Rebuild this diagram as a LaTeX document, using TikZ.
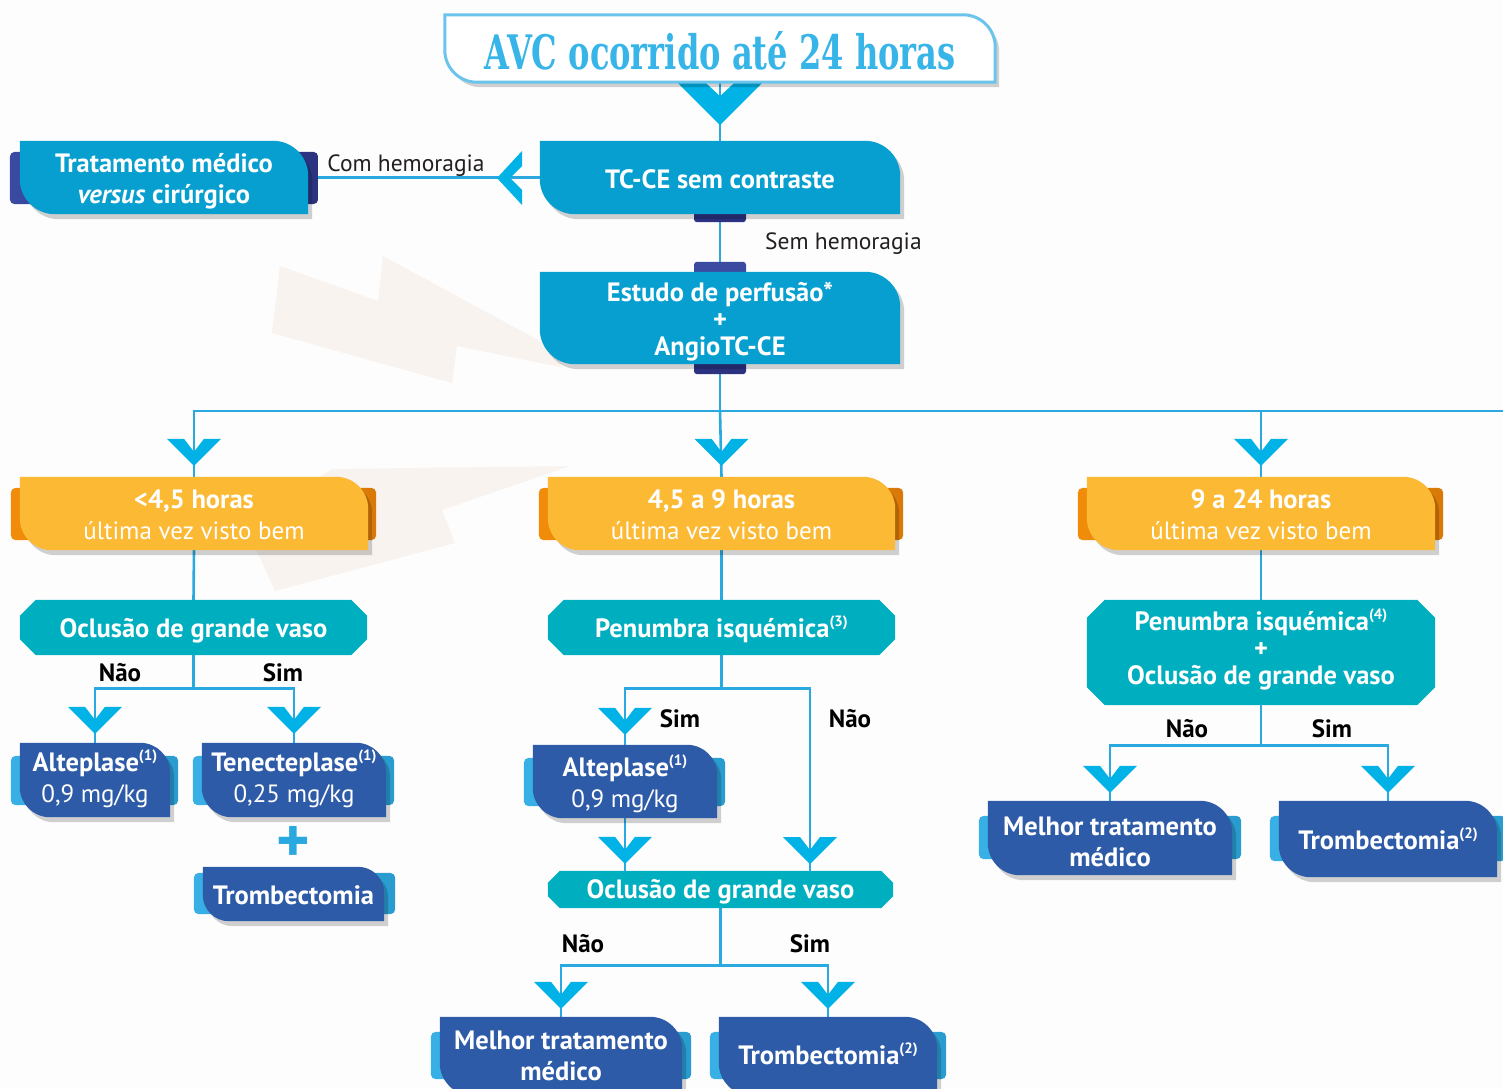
\documentclass[tikz,border=0pt]{standalone}
\usepackage{fontspec}
\usepackage{graphicx}
\setmainfont{PT Sans}
\newfontfamily\titlefont{DejaVu Serif}
\usetikzlibrary{calc,shadows}
\pgfdeclarelayer{bgl}\pgfdeclarelayer{lines}\pgfdeclarelayer{chev}\pgfdeclarelayer{tabs}\pgfdeclarelayer{shapes}
\pgfsetlayers{bgl,lines,chev,tabs,shapes,main}
\definecolor{bgcol}{HTML}{FDFDFD}
\definecolor{boltc}{HTML}{F9F3F0}
\definecolor{lineblue}{HTML}{2AA8E0}
\definecolor{chevc}{HTML}{00B2E5}
\definecolor{boxcyan}{HTML}{069FCF}
\definecolor{navyL}{HTML}{3A4AA0}
\definecolor{navyR}{HTML}{2B3380}
\definecolor{orgmain}{HTML}{FBB934}
\definecolor{orgL}{HTML}{F08C0A}
\definecolor{orgR}{HTML}{D97A08}
\definecolor{tealbox}{HTML}{00AFBF}
\definecolor{bluebox}{HTML}{2E5BA7}
\definecolor{lbL}{HTML}{38B0E6}
\definecolor{lbR}{HTML}{2A9BCE}
\definecolor{titletxt}{HTML}{38B5E8}
\definecolor{titleborder}{HTML}{6BC4EC}
\definecolor{txtdark}{HTML}{231F20}
\newcommand\supr[1]{\raisebox{0.42em}{\fontsize{15}{15}\selectfont #1}}
\newcommand\rg{\mdseries\fontsize{25}{31}\selectfont}
\tikzset{
 bxs/.style n args={2}{minimum width=#1pt, minimum height=#2pt, inner sep=0pt},
 txt/.style={inner sep=0pt, align=center, text=white, font=\bfseries\fontsize{26.5}{31}\selectfont},
 txt3/.style={txt, font=\bfseries\fontsize{26.5}{27}\selectfont},
 conn/.style={draw=lineblue, line width=2.6pt},
 yn/.style={font=\bfseries\fontsize{25}{25}\selectfont, inner sep=0pt, text=black},
 note/.style={font=\fontsize{23.5}{23.5}\selectfont, inner sep=0pt, text=txtdark},
 shd/.style={drop shadow={opacity=0.18, shadow xshift=4pt, shadow yshift=-5pt, fill=black}},
}
% main box with rounded top-right and bottom-left corners
\newcommand\mshape[3]{\begin{pgfonlayer}{shapes}
\path[#3] let \p1=(#1.north west), \p2=(#1.south east) in
 (\x1,\y1) -- ({\x2-#2pt},\y1) .. controls ({\x2-0.45*#2pt},\y1) and (\x2,{\y1-0.45*#2pt}) .. (\x2,{\y1-#2pt})
 -- (\x2,\y2) -- ({\x1+#2pt},\y2) .. controls ({\x1+0.45*#2pt},\y2) and (\x1,{\y2+0.45*#2pt}) .. (\x1,{\y2+#2pt}) -- cycle;
\end{pgfonlayer}}
% chamfered box
\newcommand\oshape[3]{\begin{pgfonlayer}{shapes}
\path[#3] let \p1=(#1.north west), \p2=(#1.south east) in
 ({\x1+#2pt},\y1) -- ({\x2-#2pt},\y1) -- (\x2,{\y1-#2pt}) -- (\x2,{\y2+#2pt}) -- ({\x2-#2pt},\y2) -- ({\x1+#2pt},\y2) -- (\x1,{\y2+#2pt}) -- (\x1,{\y1-#2pt}) -- cycle;
\end{pgfonlayer}}
% side tab behind a box
\newcommand\sidetab[6]{\begin{pgfonlayer}{tabs}
\path[#6, rounded corners=5pt] let \p1=(#1.north west), \p2=(#1.south east) in
 ({\x1-#2pt},{\y1-#4pt}) rectangle ({\x2+#3pt},{\y2+#5pt});
\end{pgfonlayer}}
\newcommand\chevdown[1]{\begin{pgfonlayer}{chev}
\fill[chevc] ($(#1)+(-27,-27)$) -- ($(#1)+(-10,-27)$) -- ($(#1)+(0,-14)$) -- ($(#1)+(10,-27)$) -- ($(#1)+(27,-27)$) -- (#1) -- cycle;
\end{pgfonlayer}}
\newcommand\chevbig[1]{\begin{pgfonlayer}{chev}
\fill[chevc] ($(#1)+(-43,-43)$) -- ($(#1)+(-15,-43)$) -- ($(#1)+(0,-29)$) -- ($(#1)+(15,-43)$) -- ($(#1)+(43,-43)$) -- (#1) -- cycle;
\end{pgfonlayer}}
\newcommand\chevleft[1]{\begin{pgfonlayer}{chev}
\fill[chevc] ($(#1)+(25,-27)$) -- ($(#1)+(25,-12)$) -- ($(#1)+(13,0)$) -- ($(#1)+(25,12)$) -- ($(#1)+(25,27)$) -- (#1) -- cycle;
\end{pgfonlayer}}

\begin{document}
\begin{tikzpicture}[x=1pt,y=-1pt]
\useasboundingbox (0,0) rectangle (1503,1088);
\begin{pgfonlayer}{bgl}
\fill[bgcol] (0,0) rectangle (1503,1088);
\fill[boltc] (280,266) -- (378,301) -- (383,256) -- (560,352) -- (560,367) -- (457,346) -- (452,383) -- (272,333) -- cycle;
\fill[boltc] (332,469) -- (570,466) -- (442,510) -- (455,543) -- (275,591) -- (245,525) -- cycle;
\end{pgfonlayer}

% ---------- box nodes ----------
\node[bxs={550}{67}] (title) at (720,48.5) {};
\node[bxs={288}{73}] (trat) at (164,177.5) {};
\node[bxs={360}{73}] (tcce) at (720,177.5) {};
\node[bxs={360}{92}] (est) at (720,318) {};
\node[bxs={348}{73}] (o1) at (194,513.5) {};
\node[bxs={347}{73}] (o2) at (721.5,513.5) {};
\node[bxs={348}{73}] (o3) at (1261,513.5) {};
\node[bxs={347}{55}] (t1) at (193.5,627.5) {};
\node[bxs={347}{55}] (t2) at (721.5,627.5) {};
\node[bxs={348}{105}] (t3) at (1261,652.5) {};
\node[bxs={150}{74}] (a1) at (95,780) {};
\node[bxs={184}{74}] (a2) at (294,780) {};
\node[bxs={181}{54}] (trb1) at (293.5,894) {};
\node[bxs={184}{73}] (a3) at (625,781.5) {};
\node[bxs={345}{37}] (t4) at (720.5,889.5) {};
\node[bxs={242}{78}] (m1) at (561,1056) {};
\node[bxs={218}{78}] (trb2) at (828,1056) {};
\node[bxs={244}{74}] (m2) at (1110,838) {};
\node[bxs={218}{76}] (trb3) at (1388,839) {};

% ---------- texts ----------
\node[inner sep=0pt, text=titletxt] (titleT) at (720,50.5)
 {\resizebox{471pt}{38pt}{\titlefont\bfseries AVC ocorrido até 24 horas}};
\node[txt] (tratT) at (164,181.5) {Tratamento médico\\\textit{versus} cirúrgico};
\node[txt] (tcceT) at (720,179.5) {TC-CE sem contraste};
\node[txt3] (estT) at (720,322) {Estudo de perfusão*\\+\\AngioTC-CE};
\node[txt] (o1T) at (194,515) {<4,5 horas\\{\rg última vez visto bem}};
\node[txt] (o2T) at (721.5,515) {4,5 a 9 horas\\{\rg última vez visto bem}};
\node[txt] (o3T) at (1261,515) {9 a 24 horas\\{\rg última vez visto bem}};
\node[txt] (t1T) at (193.5,630.5) {Oclusão de grande vaso};
\node[txt] (t2T) at (721.5,629.5) {Penumbra isquémica\supr{(3)}};
\node[txt3] (t3T) at (1261,649.5) {Penumbra isquémica\supr{(4)}\\+\\Oclusão de grande vaso};
\node[txt] (a1T) at (95,779) {Alteplase\supr{(1)}\\{\rg 0,9 mg/kg}};
\node[txt] (a2T) at (294,779) {Tenecteplase\supr{(1)}\\{\rg 0,25 mg/kg}};
\node[font=\bfseries\fontsize{64}{64}\selectfont, text=lineblue, inner sep=0pt] (plus) at (293,844) {+};
\node[txt] (trb1T) at (293.5,895) {Trombectomia};
\node[txt] (a3T) at (625,783.5) {Alteplase\supr{(1)}\\{\rg 0,9 mg/kg}};
\node[txt] (t4T) at (720.5,891.5) {Oclusão de grande vaso};
\node[txt] (m1T) at (561,1056) {Melhor tratamento\\médico};
\node[txt] (trb2T) at (828,1054) {Trombectomia\supr{(2)}};
\node[txt] (m2T) at (1110,841.5) {Melhor tratamento\\médico};
\node[txt] (trb3T) at (1388,839) {Trombectomia\supr{(2)}};

% ---------- labels ----------
\node[note] (lcom) at (406,166) {Com hemoragia};
\node[note, anchor=west] (lsem) at (765,243.5) {Sem hemoragia};
\node[yn] (n1) at (120,673) {Não};
\node[yn] (s1) at (283,673) {Sim};
\node[yn] (s2) at (680,719) {Sim};
\node[yn] (n2) at (850,719) {Não};
\node[yn] (n3) at (583,944) {Não};
\node[yn] (s3) at (810,944) {Sim};
\node[yn] (n4) at (1187,729) {Não};
\node[yn] (s4) at (1332,729) {Sim};

% ---------- shapes ----------
\mshape{title}{32}{fill=white, draw=titleborder, line width=3pt, shd}
\mshape{trat}{35}{fill=boxcyan, shd}
\sidetab{trat}{10}{10}{11}{10}{left color=navyL, right color=navyR}
\mshape{tcce}{35}{fill=boxcyan, shd}
\mshape{est}{35}{fill=boxcyan, shd}
\begin{pgfonlayer}{tabs}
\fill[navyR, rounded corners=3pt] ($(tcce.south)+(-26,-5)$) rectangle ($(tcce.south)+(26,8)$);
\fill[navyL, rounded corners=3pt] ($(est.north)+(-26,-10)$) rectangle ($(est.north)+(26,5)$);
\fill[navyR, rounded corners=3pt] ($(est.south)+(-26,-5)$) rectangle ($(est.south)+(26,10)$);
\end{pgfonlayer}
\mshape{o1}{32}{fill=orgmain, shd}
\sidetab{o1}{9}{8}{11}{10}{left color=orgL, right color=orgR}
\mshape{o2}{32}{fill=orgmain, shd}
\sidetab{o2}{9}{8}{11}{10}{left color=orgL, right color=orgR}
\mshape{o3}{32}{fill=orgmain, shd}
\sidetab{o3}{9}{8}{11}{10}{left color=orgL, right color=orgR}
\oshape{t1}{16}{fill=tealbox}
\oshape{t2}{16}{fill=tealbox}
\oshape{t3}{18}{fill=tealbox}
\oshape{t4}{12}{fill=tealbox}
\mshape{a1}{30}{fill=bluebox, shd}
\sidetab{a1}{9}{8}{13}{12}{left color=lbL, right color=lbR}
\mshape{a2}{30}{fill=bluebox, shd}
\sidetab{a2}{9}{8}{13}{12}{left color=lbL, right color=lbR}
\mshape{a3}{30}{fill=bluebox, shd}
\sidetab{a3}{9}{8}{13}{12}{left color=lbL, right color=lbR}
\mshape{trb1}{26}{fill=bluebox, shd}
\sidetab{trb1}{9}{11}{6}{7}{left color=lbL, right color=lbR}
\mshape{m1}{32}{fill=bluebox, shd}
\sidetab{m1}{9}{9}{15}{16}{left color=lbL, right color=lbR}
\mshape{trb2}{32}{fill=bluebox, shd}
\sidetab{trb2}{9}{9}{15}{16}{left color=lbL, right color=lbR}
\mshape{m2}{32}{fill=bluebox, shd}
\sidetab{m2}{9}{9}{15}{16}{left color=lbL, right color=lbR}
\mshape{trb3}{32}{fill=bluebox, shd}
\sidetab{trb3}{9}{9}{15}{16}{left color=lbL, right color=lbR}

% ---------- connectors ----------
\coordinate (edge) at (1503,411);
\coordinate (j0) at (720,411);
\coordinate (nao2) at (810,871);
\coordinate (j1) at ($(t1.south)+(0,33)$);
\coordinate (j2) at ($(t2.south)+(0,33)$);
\coordinate (j3) at ($(t4.south)+(0,57)$);
\coordinate (j4) at ($(t3.south)+(0,40)$);
\begin{pgfonlayer}{lines}
\draw[conn] (title.south) -- (tcce.north);
\draw[conn] (tcce.west) -- (trat.east);
\draw[conn] (tcce.south) -- (est.north);
\draw[conn] (est.south) -- (j0);
\draw[conn] (o1.north) |- (edge);
\draw[conn] (j0) -- (o2.north);
\draw[conn] (o3.north) -- (o3.north |- j0);
\draw[conn] (o1.south) -- (t1.north);
\draw[conn] (o2.south) -- (t2.north);
\draw[conn] (o3.south) -- (t3.north);
\draw[conn] (t1.south) -- (j1);
\draw[conn] (a1.north) |- (j1) -| (a2.north);
\draw[conn] (t2.south) -- (j2);
\draw[conn] (a3.north) |- (j2) -| (nao2);
\draw[conn] (a3.south) -- (a3.south |- t4.north);
\draw[conn] (t4.south) -- (j3);
\draw[conn] (m1.north) |- (j3) -| (trb2.north);
\draw[conn] (t3.south) -- (j4);
\draw[conn] (m2.north) |- (j4) -| (trb3.north);
\end{pgfonlayer}

% ---------- chevrons ----------
\coordinate (cT) at ($(title.south)+(0,43)$);
\chevbig{cT}
\coordinate (cL) at (497,178);
\chevleft{cL}
\coordinate (c1) at ($(o1.north)+(0,-11)$) ; \chevdown{c1}
\coordinate (c2) at ($(o2.north)+(0,-11)$) ; \chevdown{c2}
\coordinate (c3) at ($(o3.north)+(0,-11)$) ; \chevdown{c3}
\coordinate (c4) at ($(a1.north)+(0,-9)$) ; \chevdown{c4}
\coordinate (c5) at ($(a2.north)+(0,-9)$) ; \chevdown{c5}
\coordinate (c6) at ($(a3.north)+(0,-10)$) ; \chevdown{c6}
\coordinate (c7) at ($(a3.south |- t4.north)+(0,-7)$) ; \chevdown{c7}
\coordinate (c8) at ($(nao2)+(0,-7)$) ; \chevdown{c8}
\coordinate (c9) at ($(m1.north)+(0,-8)$) ; \chevdown{c9}
\coordinate (c10) at ($(trb2.north)+(0,-8)$) ; \chevdown{c10}
\coordinate (c11) at ($(m2.north)+(0,-8)$) ; \chevdown{c11}
\coordinate (c12) at ($(trb3.north)+(0,-8)$) ; \chevdown{c12}
\end{tikzpicture}
\end{document}
